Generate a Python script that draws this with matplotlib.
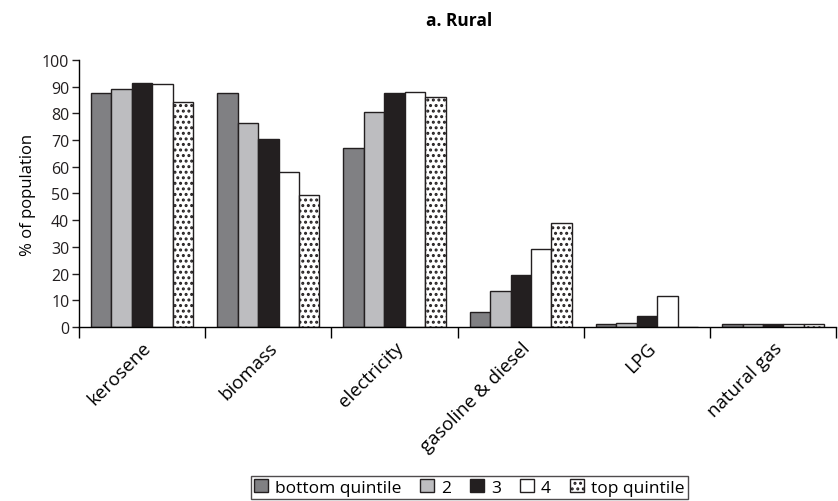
import matplotlib
matplotlib.use("Agg")
import matplotlib.pyplot as plt
import numpy as np
from matplotlib.patches import Patch

plt.rcParams['font.family'] = ['Open Sans', 'DejaVu Sans']
plt.rcParams['hatch.linewidth'] = 1.4

categories = ["kerosene", "biomass", "electricity", "gasoline & diesel", "LPG", "natural gas"]
series_names = ["bottom quintile", "2", "3", "4", "top quintile"]
bottom_q = [87.8, 87.5, 67.0, 5.5, 1.1, 1.2]
q2 = [89.3, 76.5, 80.5, 13.5, 1.6, 1.2]
q3 = [91.3, 70.4, 87.5, 19.4, 4.0, 1.2]
q4 = [91.1, 58.2, 87.9, 29.2, 11.6, 1.2]
top_q = [84.3, 49.4, 86.1, 39.1, 0.0, 1.2]
yticks = [0, 10, 20, 30, 40, 50, 60, 70, 80, 90, 100]

series = [bottom_q, q2, q3, q4, top_q]
colors = ["#808083", "#bdbdc0", "#231f20", "#ffffff", "#ffffff"]
hatches = [None, None, None, None, "..."]

fig = plt.figure(figsize=(8.38, 5.02), dpi=100)
ax = fig.add_axes([0.0943, 0.3466, 0.9037, 0.532])

n = len(categories)
x = np.arange(n)
bw = 0.162
for i, vals in enumerate(series):
    offs = (i - 2) * bw
    ax.bar(x + offs, vals, width=bw, color=colors[i], edgecolor="#231f20",
           linewidth=1.0, hatch=hatches[i], label=series_names[i])

ax.set_xlim(-0.5, n - 0.5)
ax.set_ylim(0, 100)
ax.set_yticks(yticks)
ax.tick_params(axis='y', direction='out', length=5, width=1, labelsize=11.5, pad=2, colors="#231f20")
ax.set_xticks(np.arange(n + 1) - 0.5)
ax.set_xticklabels([])
ax.tick_params(axis='x', direction='out', length=8, width=1)
ax.set_xticks(x, minor=True)
ax.set_xticklabels(categories, minor=True, rotation=45, ha='right', va='top',
                   rotation_mode='anchor', fontsize=13.5)
ax.tick_params(axis='x', which='minor', length=0, pad=8)
for s in ['top', 'right']:
    ax.spines[s].set_visible(False)
ax.spines['left'].set_linewidth(1)
ax.spines['bottom'].set_linewidth(1)
ax.set_ylabel("% of population", fontsize=12, labelpad=4)

fig.text(0.548, 0.958, "a. Rural", ha='center', va='center', fontsize=12.5, fontweight='bold')

handles = [Patch(facecolor=colors[i], edgecolor="#231f20", hatch=hatches[i], linewidth=1.0)
           for i in range(5)]
leg = fig.legend(handles, series_names, loc='lower center', bbox_to_anchor=(0.56, 0.0),
                 ncol=5, frameon=True, fancybox=False, edgecolor="#231f20",
                 fontsize=12.5, handlelength=0.8, handleheight=0.8, handletextpad=0.4,
                 columnspacing=1.1, borderpad=0.2, borderaxespad=0.1)
leg.get_frame().set_linewidth(1)

fig.savefig("out.png", dpi=100)
